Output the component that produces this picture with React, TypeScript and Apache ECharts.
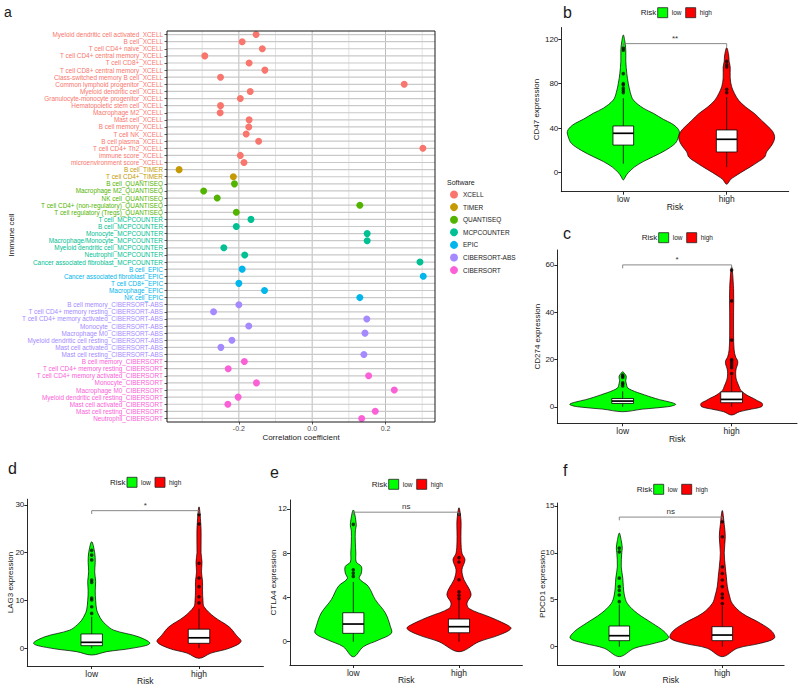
import React, { useEffect, useRef } from 'react';
import * as echarts from 'echarts';

const FONT = '"Liberation Sans", Arial, Helvetica, sans-serif';

// ---------- Panel a: correlation of risk score with immune cells ----------
const softwares = ['XCELL', 'TIMER', 'QUANTISEQ', 'MCPCOUNTER', 'EPIC', 'CIBERSORT-ABS', 'CIBERSORT'];
const softwareColors = ['#F8766D', '#C49A00', '#53B400', '#00C094', '#00B6EB', '#A58AFF', '#FB61D7'];

const xcellCells = ['Myeloid dendritic cell activated', 'B cell', 'T cell CD4+ naive', 'T cell CD4+ central memory', 'T cell CD8+', 'T cell CD8+ central memory', 'Class-switched memory B cell', 'Common lymphoid progenitor', 'Myeloid dendritic cell', 'Granulocyte-monocyte progenitor', 'Hematopoietic stem cell', 'Macrophage M2', 'Mast cell', 'B cell memory', 'T cell NK', 'B cell plasma', 'T cell CD4+ Th2', 'immune score', 'microenvironment score'];
const xcellR = [-0.153, -0.191, -0.136, -0.293, -0.172, -0.129, -0.250, 0.251, -0.169, -0.196, -0.250, -0.251, -0.172, -0.173, -0.180, -0.146, 0.302, -0.196, -0.186];
const timerCells = ['B cell', 'T cell CD4+'];
const timerR = [-0.363, -0.215];
const quantiseqCells = ['B cell', 'Macrophage M2', 'NK cell', 'T cell CD4+ (non-regulatory)', 'T cell regulatory (Tregs)'];
const quantiseqR = [-0.212, -0.296, -0.259, 0.130, -0.207];
const mcpcounterCells = ['T cell', 'B cell', 'Monocyte', 'Macrophage/Monocyte', 'Myeloid dendritic cell', 'Neutrophil', 'Cancer associated fibroblast'];
const mcpcounterR = [-0.167, -0.207, 0.150, 0.150, -0.241, -0.184, 0.294];
const epicCells = ['B cell', 'Cancer associated fibroblast', 'T cell CD8+', 'Macrophage', 'NK cell'];
const epicR = [-0.191, 0.303, -0.200, -0.130, 0.130];
const cibersortAbsCells = ['B cell memory', 'T cell CD4+ memory resting', 'T cell CD4+ memory activated', 'Monocyte', 'Macrophage M0', 'Myeloid dendritic cell resting', 'Mast cell activated', 'Mast cell resting'];
const cibersortAbsR = [-0.200, -0.269, 0.149, -0.173, 0.144, -0.219, -0.249, 0.141];
const cibersortCells = ['B cell memory', 'T cell CD4+ memory resting', 'T cell CD4+ memory activated', 'Monocyte', 'Macrophage M0', 'Myeloid dendritic cell resting', 'Mast cell activated', 'Mast cell resting', 'Neutrophil'];
const cibersortR = [-0.185, -0.229, 0.154, -0.152, 0.224, -0.202, -0.230, 0.172, 0.135];

const corrTicks = [-0.2, 0, 0.2];
const corrGridValues = [-0.3, -0.2, -0.1, 0, 0.1, 0.2, 0.3];

// ---------- Panels b-f: expression by risk group ----------
const riskLevels = ['low', 'high'];
const riskColors = ['#00FF00', '#FF0000'];

// violin outlines: [expression value, half width in group units]
const cd47LowViolin = [[-6.5, 0], [-3, 0.024], [0, 0.048], [5, 0.106], [10, 0.193], [14.4, 0.29], [20, 0.406], [26.4, 0.503], [32, 0.532], [36.9, 0.542], [41, 0.513], [44.4, 0.464], [48, 0.387], [53.4, 0.29], [58, 0.193], [65.3, 0.097], [72, 0.068], [80.4, 0.048], [89, 0.034], [100, 0.024], [110, 0.024], [118, 0.015], [123.8, 0]];
const cd47HighViolin = [[-10.4, 0], [-6, 0.039], [-3.5, 0.077], [0, 0.135], [5.4, 0.232], [10, 0.309], [14, 0.367], [18.7, 0.387], [23.4, 0.426], [28, 0.455], [32.4, 0.464], [37, 0.445], [41, 0.406], [47, 0.338], [53, 0.271], [59, 0.184], [65, 0.116], [71, 0.077], [77.3, 0.048], [85, 0.034], [95, 0.034], [100, 0.024], [106, 0.019], [112.4, 0]];
const cd47LowBox = [8, 24.8, 35.4, 42, 67];
const cd47HighBox = [5, 18.6, 30, 38.4, 68];
const cd47LowOut = [72, 74, 76, 79, 80, 89, 110, 112];
const cd47HighOut = [72, 75, 95, 97, 100];
const cd47Ticks = [0, 40, 80, 120];

const cd274LowViolin = [[-2.1, 0], [-1, 0.183], [0, 0.413], [1, 0.486], [2, 0.431], [3, 0.339], [4, 0.266], [5, 0.202], [6, 0.138], [7, 0.083], [8, 0.046], [9, 0.037], [10, 0.032], [11, 0.028], [12, 0.032], [13, 0.032], [14, 0.018], [14.8, 0]];
const cd274HighViolin = [[-3.5, 0], [-2.1, 0.073], [-1, 0.183], [0, 0.275], [1, 0.284], [1.7, 0.275], [2.5, 0.239], [3.5, 0.202], [4.5, 0.156], [5.6, 0.119], [7, 0.083], [8.5, 0.069], [10, 0.055], [12, 0.041], [14, 0.037], [16, 0.041], [18, 0.055], [19.5, 0.055], [21, 0.037], [24, 0.023], [30, 0.018], [40, 0.018], [50, 0.018], [59.2, 0]];
const cd274LowBox = [0, 1.4, 2.4, 3.5, 6.5];
const cd274HighBox = [0, 1.7, 3.1, 6.3, 13];
const cd274LowOut = [8.8, 9.6, 10.1, 12.4, 12.9, 13.4];
const cd274HighOut = [14, 16.5, 17.5, 18.5, 19.5, 20, 28.2, 44.8, 57.8];
const cd274Ticks = [0, 20, 40, 60];

const lag3LowViolin = [[-1.4, 0], [-0.7, 0.14], [0, 0.373], [1, 0.541], [2.4, 0.438], [3.8, 0.205], [5, 0.13], [5.9, 0.093], [7, 0.065], [8, 0.047], [10, 0.037], [12, 0.033], [14, 0.037], [16, 0.028], [18, 0.033], [20, 0.028], [22.3, 0]];
const lag3HighViolin = [[-2.1, 0], [-1, 0.112], [0, 0.28], [1.4, 0.391], [2.8, 0.345], [4.5, 0.28], [6.6, 0.14], [8.7, 0.047], [10, 0.037], [12, 0.033], [14, 0.033], [16, 0.023], [18, 0.028], [20, 0.019], [25, 0.019], [29.6, 0]];
const lag3LowBox = [0, 0.55, 1.25, 3.0, 6.6];
const lag3HighBox = [0, 1.05, 2.2, 4.0, 8.3];
const lag3LowOut = [7.3, 8.7, 10.1, 10.5, 13.8, 14.3, 18.5, 19.5, 20.5];
const lag3HighOut = [9.5, 10.8, 12.9, 14.7, 17.8, 26, 28];
const lag3Ticks = [0, 10, 20, 30];

const ctla4LowViolin = [[-1.36, 0], [-0.45, 0.095], [0.15, 0.237], [0.76, 0.36], [1.4, 0.35], [2.6, 0.303], [3.8, 0.208], [5, 0.142], [5.7, 0.057], [6.2, 0.076], [6.8, 0.076], [7.2, 0.028], [8, 0.024], [9, 0.019], [10, 0.019], [10.6, 0.028], [11.9, 0]];
const ctla4HighViolin = [[-0.9, 0], [0, 0.189], [0.6, 0.378], [1.2, 0.492], [1.66, 0.426], [2.26, 0.284], [3, 0.095], [3.5, 0.076], [4.2, 0.114], [4.8, 0.095], [5.6, 0.047], [6.5, 0.028], [7.4, 0.057], [8, 0.028], [9, 0.019], [10, 0.019], [11, 0.019], [12.1, 0]];
const ctla4LowBox = [0, 0.76, 1.6, 2.62, 5.4];
const ctla4HighBox = [0, 0.81, 1.36, 2.05, 3.8];
const ctla4LowOut = [5.9, 6.2, 6.5, 10.6];
const ctla4HighOut = [3.9, 4.2, 4.5, 5.6, 7.2, 7.6, 11.5];
const ctla4Ticks = [0, 4, 8, 12];

const pdcd1LowViolin = [[-1.06, 0], [-0.17, 0.146], [0.36, 0.34], [0.9, 0.476], [1.6, 0.437], [2.5, 0.32], [3.55, 0.175], [4.6, 0.078], [5.5, 0.049], [6.4, 0.039], [7.3, 0.034], [8.5, 0.019], [10, 0.024], [10.5, 0.029], [11.3, 0.019], [12.1, 0]];
const pdcd1HighViolin = [[-1.06, 0], [-0.17, 0.146], [0.36, 0.369], [0.9, 0.505], [1.6, 0.485], [2.5, 0.369], [3.55, 0.194], [4.6, 0.097], [5.5, 0.068], [6.4, 0.049], [7.5, 0.039], [8.5, 0.029], [10, 0.019], [11.7, 0.029], [13, 0.019], [14.5, 0]];
const pdcd1LowBox = [0, 0.64, 1.17, 2.2, 4.5];
const pdcd1HighBox = [0, 0.64, 1.24, 2.13, 4.4];
const pdcd1LowOut = [4.8, 5.5, 6.0, 6.4, 7.3, 10.1, 10.5];
const pdcd1HighOut = [4.6, 5.2, 5.6, 6.4, 7.1, 7.8, 8.5, 11.7, 13.3];
const pdcd1Ticks = [0, 5, 10, 15];

const genes = ['CD47', 'CD274', 'LAG3', 'CTLA4', 'PDCD1'];
const sigLabels = ['**', '*', '*', 'ns', 'ns'];
const sigLevels = [116, 60, 28.8, 11.7, 13.8];

// ---------- layout (positions only) ----------
const layouts = [
  { letter: 'b', lx: 563, ly: 12, grid: { left: 561.3, top: 27.5, width: 227.4, height: 164.2 }, min: -17.1, max: 130.5, legX: 640.7, legY: 12.7, titleX: 536 },
  { letter: 'c', lx: 563, ly: 233, grid: { left: 557.3, top: 250, width: 239.7, height: 173.3 }, min: -7, max: 66.3, legX: 641.7, legY: 237.7, titleX: 537 },
  { letter: 'd', lx: 8, ly: 468, grid: { left: 27.3, top: 499.2, width: 236.1, height: 166.8 }, min: -3.7, max: 31.2, legX: 110, legY: 482.3, titleX: 10 },
  { letter: 'e', lx: 270, ly: 472, grid: { left: 289.9, top: 500, width: 232.5, height: 165 }, min: -2.1, max: 12.8, legX: 371.7, legY: 484.3, titleX: 273.3 },
  { letter: 'f', lx: 563, ly: 470, grid: { left: 557.5, top: 503, width: 226.6, height: 162 }, min: -1.95, max: 15.3, legX: 636.7, legY: 489.3, titleX: 542.5 },
];

function txt(text: string, x: number, y: number, fontSize: number, extra: any = {}, rotation = 0, color = '#1a1a1a') {
  const align = extra.align || 'left';
  const v = extra.verticalAlign || 'middle';
  return {
    type: 'text', x, y, rotation, z: 50, silent: true,
    style: { text, fontSize, fontFamily: FONT, fill: color, align, textAlign: align, verticalAlign: v, textVerticalAlign: v, fontWeight: extra.fontWeight || 'normal' },
  };
}

function makeViolinRender(violins: number[][][], boxes: number[][]) {
  return (params: any, api: any) => {
    const i = params.dataIndex;
    const cx = i + 1;
    const prof = violins[i];
    const right = prof.map(([v, w]) => api.coord([cx + w, v]));
    const left = prof.slice(1, -1).reverse().map(([v, w]) => api.coord([cx - w, v]));
    const pts = right.concat(left);
    const [lo, q1, med, q3, hi] = boxes[i];
    const c = (v: number) => api.coord([cx, v]);
    const tl = api.coord([cx - 0.1, q3]);
    const br = api.coord([cx + 0.1, q1]);
    const m = c(med);
    const line = (a: number[], b: number[], w: number) => ({ type: 'line', shape: { x1: a[0], y1: a[1], x2: b[0], y2: b[1] }, style: { stroke: '#000', lineWidth: w } });
    return {
      type: 'group',
      children: [
        { type: 'polygon', shape: { points: pts, smooth: 0.35 }, style: { fill: riskColors[i], stroke: '#000', lineWidth: 0.7 } },
        line(c(lo), c(q1), 0.8),
        line(c(q3), c(hi), 0.8),
        { type: 'rect', shape: { x: tl[0], y: tl[1], width: br[0] - tl[0], height: br[1] - tl[1] }, style: { fill: '#fff', stroke: '#000', lineWidth: 0.8 } },
        line([tl[0], m[1]], [br[0], m[1]], 1.7),
      ],
    };
  };
}

function makeBracketRender(level: number, tip: number, label: string) {
  return (_params: any, api: any) => {
    const p1 = api.coord([1, level - tip]);
    const p2 = api.coord([1, level]);
    const p3 = api.coord([2, level]);
    const p4 = api.coord([2, level - tip]);
    const mid = api.coord([1.5, level]);
    return {
      type: 'group',
      children: [
        { type: 'polyline', shape: { points: [p1, p2, p3, p4] }, style: { stroke: '#7a7a7a', lineWidth: 0.9, fill: 'none' } },
        { type: 'text', x: mid[0], y: mid[1] - 1.5, style: { text: label, fontSize: 8, fontFamily: FONT, fill: '#333', align: 'center', verticalAlign: 'bottom' } },
      ],
    };
  };
}

function buildOption() {
  const groups: [string[], number[]][] = [
    [xcellCells, xcellR], [timerCells, timerR], [quantiseqCells, quantiseqR], [mcpcounterCells, mcpcounterR],
    [epicCells, epicR], [cibersortAbsCells, cibersortAbsR], [cibersortCells, cibersortR],
  ];
  const categories: string[] = [];
  const colorMap: Record<string, string> = {};
  groups.forEach(([cells], gi) => cells.forEach((c) => {
    const name = c + '_' + softwares[gi];
    categories.push(name);
    colorMap[name] = softwareColors[gi];
  }));

  const grids: any[] = [];
  const xAxes: any[] = [];
  const yAxes: any[] = [];
  const series: any[] = [];
  const graphics: any[] = [];

  // panel a
  grids.push({ left: 167, top: 31, width: 268, height: 391 });
  xAxes.push({
    type: 'value', gridIndex: 0, min: -0.396, max: 0.335,
    axisLine: { show: false, onZero: false }, splitLine: { show: false },
    axisTick: { show: true, customValues: corrTicks, length: 2.5, lineStyle: { color: '#333', width: 0.8 } },
    axisLabel: { customValues: corrTicks, formatter: (v: number) => (Math.abs(v) < 1e-9 ? '0.0' : v.toFixed(1)), fontSize: 7, color: '#4d4d4d', margin: 3, fontFamily: FONT },
  });
  yAxes.push({
    type: 'category', gridIndex: 0, data: categories, inverse: true,
    axisLine: { show: false, onZero: false }, splitLine: { show: false },
    axisTick: { show: true, alignWithLabel: true, interval: 0, length: 2.5, lineStyle: { color: '#333', width: 0.8 } },
    axisLabel: { interval: 0, fontSize: 6.4, margin: 4, fontFamily: FONT, color: (v: string) => colorMap[v] || '#333' },
  });
  // vertical grid lines
  series.push({
    type: 'custom', xAxisIndex: 0, yAxisIndex: 0, z: 1, silent: true,
    data: corrGridValues.map((v) => [v, categories[0]]),
    renderItem: (params: any, api: any) => {
      const cs = params.coordSys;
      const v = corrGridValues[params.dataIndex];
      const x = api.coord([v, 0])[0];
      const major = params.dataIndex % 2 === 1;
      return { type: 'line', shape: { x1: x, y1: cs.y, x2: x, y2: cs.y + cs.height }, style: { stroke: major ? '#bcbcbc' : '#dcdcdc', lineWidth: major ? 1 : 0.8 } };
    },
  });
  // horizontal grid lines (one per immune cell)
  series.push({
    type: 'custom', xAxisIndex: 0, yAxisIndex: 0, z: 1, silent: true,
    data: categories.map((c) => [0, c]),
    renderItem: (params: any, api: any) => {
      const cs = params.coordSys;
      const y = api.coord([0, params.dataIndex])[1];
      return { type: 'line', shape: { x1: cs.x, y1: y, x2: cs.x + cs.width, y2: y }, style: { stroke: '#c9c9c9', lineWidth: 1.2 } };
    },
  });
  groups.forEach(([cells, rs], gi) => {
    series.push({
      type: 'scatter', name: softwares[gi], xAxisIndex: 0, yAxisIndex: 0, z: 3, symbolSize: 7, silent: true,
      itemStyle: { color: softwareColors[gi], opacity: 1 },
      data: cells.map((c, i) => [rs[i], c + '_' + softwares[gi]]),
    });
  });
  graphics.push(txt('a', 4, 12, 14));
  graphics.push(txt('Software', 447, 182, 7));
  graphics.push(txt('Immune cell', 11.5, 235, 8, { align: 'center' }, Math.PI / 2));
  graphics.push(txt('Correlation coefficient', 301, 437.7, 8, { align: 'center' }));
  graphics.push({ type: 'rect', z: 60, silent: true, shape: { x: 167, y: 31, width: 268, height: 391 }, style: { fill: 'none', stroke: '#1a1a1a', lineWidth: 1 } });

  // panels b-f
  const panelData = [
    { violins: [cd47LowViolin, cd47HighViolin], boxes: [cd47LowBox, cd47HighBox], outs: [cd47LowOut, cd47HighOut], ticks: cd47Ticks },
    { violins: [cd274LowViolin, cd274HighViolin], boxes: [cd274LowBox, cd274HighBox], outs: [cd274LowOut, cd274HighOut], ticks: cd274Ticks },
    { violins: [lag3LowViolin, lag3HighViolin], boxes: [lag3LowBox, lag3HighBox], outs: [lag3LowOut, lag3HighOut], ticks: lag3Ticks },
    { violins: [ctla4LowViolin, ctla4HighViolin], boxes: [ctla4LowBox, ctla4HighBox], outs: [ctla4LowOut, ctla4HighOut], ticks: ctla4Ticks },
    { violins: [pdcd1LowViolin, pdcd1HighViolin], boxes: [pdcd1LowBox, pdcd1HighBox], outs: [pdcd1LowOut, pdcd1HighOut], ticks: pdcd1Ticks },
  ];

  panelData.forEach((p, k) => {
    const L = layouts[k];
    const gi = k + 1;
    grids.push(L.grid);
    xAxes.push({
      type: 'value', gridIndex: gi, min: 0.4, max: 2.6, splitLine: { show: false },
      axisLine: { show: true, onZero: false, lineStyle: { color: '#111', width: 0.9 } },
      axisTick: { show: true, customValues: [1, 2], length: 3, lineStyle: { color: '#111', width: 0.9 } },
      axisLabel: { customValues: [1, 2], formatter: (v: number) => riskLevels[Math.round(v) - 1] || '', fontSize: 8.5, color: '#222', margin: 3, fontFamily: FONT },
    });
    yAxes.push({
      type: 'value', gridIndex: gi, min: L.min, max: L.max, splitLine: { show: false },
      axisLine: { show: true, onZero: false, lineStyle: { color: '#111', width: 0.9 } },
      axisTick: { show: true, customValues: p.ticks, length: 3, lineStyle: { color: '#111', width: 0.9 } },
      axisLabel: { customValues: p.ticks, fontSize: 8, color: '#222', margin: 3, fontFamily: FONT },
    });
    series.push({
      type: 'custom', xAxisIndex: gi, yAxisIndex: gi, z: 2, silent: true,
      data: [[1, p.boxes[0][2]], [2, p.boxes[1][2]]],
      renderItem: makeViolinRender(p.violins, p.boxes),
    });
    series.push({
      type: 'scatter', xAxisIndex: gi, yAxisIndex: gi, z: 4, silent: true, symbolSize: 3.6,
      itemStyle: { color: '#000', opacity: 0.75 },
      data: [...p.outs[0].map((v) => [1, v]), ...p.outs[1].map((v) => [2, v])],
    });
    series.push({
      type: 'custom', xAxisIndex: gi, yAxisIndex: gi, z: 5, silent: true, data: [[1.5, sigLevels[k]]],
      renderItem: makeBracketRender(sigLevels[k], (L.max - L.min) * 0.02, sigLabels[k]),
    });

    const g = L.grid;
    graphics.push(txt(L.letter, L.lx, L.ly, 16));
    graphics.push(txt('Risk', L.legX, L.legY, 8));
    graphics.push({ type: 'rect', z: 50, silent: true, shape: { x: L.legX + 17, y: L.legY - 5, width: 10, height: 10 }, style: { fill: riskColors[0], stroke: '#222', lineWidth: 0.8 } });
    graphics.push(txt(riskLevels[0], L.legX + 31, L.legY, 6.5));
    graphics.push({ type: 'rect', z: 50, silent: true, shape: { x: L.legX + 45, y: L.legY - 5, width: 10, height: 10 }, style: { fill: riskColors[1], stroke: '#222', lineWidth: 0.8 } });
    graphics.push(txt(riskLevels[1], L.legX + 59, L.legY, 6.5));
    graphics.push(txt(genes[k] + ' expression', L.titleX, g.top + g.height / 2, 8, { align: 'center' }, Math.PI / 2));
    graphics.push(txt('Risk', g.left + g.width / 2, g.top + g.height + 15.3, 8.5, { align: 'center' }));
  });

  return {
    animation: false,
    backgroundColor: '#ffffff',
    textStyle: { fontFamily: FONT },
    grid: grids,
    xAxis: xAxes,
    yAxis: yAxes,
    legend: {
      data: softwares.map((s) => ({ name: s, icon: 'circle' })),
      orient: 'vertical', left: 450, top: 190.5, padding: 0,
      itemWidth: 8, itemHeight: 8, itemGap: 4.6, selectedMode: false,
      textStyle: { fontSize: 6.5, color: '#1a1a1a', fontFamily: FONT },
    },
    series,
    graphic: graphics,
  };
}

export default function App() {
  const ref = useRef<HTMLDivElement>(null);
  useEffect(() => {
    if (!ref.current) return;
    const chart = echarts.init(ref.current, null, { renderer: 'svg' });
    chart.setOption(buildOption() as any);
    return () => chart.dispose();
  }, []);
  return <div ref={ref} style={{ position: 'fixed', left: 0, top: 0, width: 800, height: 689, background: '#fff' }} />;
}
